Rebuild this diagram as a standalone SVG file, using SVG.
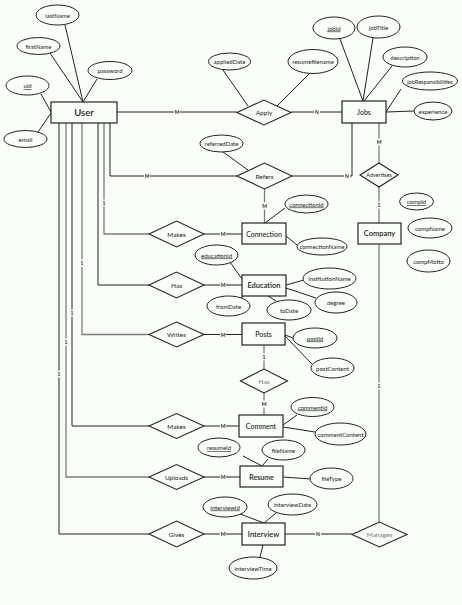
<svg xmlns="http://www.w3.org/2000/svg" width="462" height="605" viewBox="0 0 462 605">
<style>
text{font-family:Lato,"Liberation Sans","DejaVu Sans",sans-serif;fill:#222;text-anchor:middle;dominant-baseline:central}
.ent rect{fill:#f7fff6;stroke:#222;stroke-width:1.2}
.ent text{font-size:7px;font-weight:600}
.ent text.n{font-weight:500}
.rel polygon{fill:#f7fff6;stroke:#222;stroke-width:1.1}
.rel text{font-size:6.5px}
.att ellipse{fill:#f7fff6;stroke:#222;stroke-width:1}
.att text{font-size:6px}
.key text{text-decoration:underline}
#conn path{fill:none;stroke:#222;stroke-width:1}
#conn path.g{stroke:#7d7d72;stroke-width:1.3}
.lb rect{fill:#f7fff6}
.lb text{font-size:5px;font-weight:700}
.grey text{fill:#777}
</style>
<rect width="462" height="605" fill="#f7fff6"/>
<g id="conn">
<path d="M65,25 L83,102 M50,53 L83,102 M97,79 L83,102 M41,94 L51,112 M38,132 L51,113"/>
<path d="M117,112 H237 M291,112 H342"/>
<path d="M223,70 L248,106 M310,73 L277,106"/>
<path d="M340,39 L363,101 M373,38 L363,101 M392,66 L364,101 M401,89 L386,112 M414,111 L386,112"/>
<path d="M110,123 V176 H237"/>
<path d="M104,123 V234 H149" class="g"/>
<path d="M98,123 V285 H149"/>
<path d="M82,123 V334.5 H149" class="g"/>
<path d="M72,123 V426 H149"/>
<path d="M66,123 V477 H149" class="g"/>
<path d="M59,123 V534 H149"/>
<path d="M292,176 H352 V123"/>
<path d="M223,152 L248,170"/>
<path d="M264.5,189 V223" class="g"/>
<path d="M379,123 V163" class="g"/>
<path d="M379,187 V223" class="g"/>
<path d="M379,244 V522" class="g"/>
<path d="M285,208 L265,223 M297,245 L286,236"/>
<path d="M204,234 H242 M204,285 H242 M204,334.5 H242 M204,426 H239 M204,477 H240 M204,534 H242"/>
<path d="M230,262 L242,279 M240,298 L244,296 M268,296 L276,301 M304,280 L286,285 M316,298 L286,288"/>
<path d="M293,338 L285,335 M312,364 L285,336"/>
<path d="M264,345 V369 M264,393 V415" class="g"/>
<path d="M297,415 L283,425 M315,432 L283,427"/>
<path d="M243,456 L262,466 M268,459 L262,466 M311,479 L283,477"/>
<path d="M240,514 L264,523 M276,513 L264,523 M263,545 L260,557"/>
<path d="M285,534 H352"/>
<g class="lb">
<rect x="174" y="108.5" width="6" height="7"/><text x="177" y="112">M</text>
<rect x="314" y="108.5" width="6" height="7"/><text x="317" y="112">N</text>
<rect x="144" y="172.5" width="6" height="7"/><text x="147" y="176">M</text>
<rect x="344" y="172.5" width="6" height="7"/><text x="347" y="176">N</text>
<rect x="376" y="138.5" width="6" height="7"/><text x="379" y="142">M</text>
<rect x="376" y="201.5" width="6" height="7"/><text x="379" y="205">1</text>
<rect x="261.5" y="202.5" width="6" height="7"/><text x="264.5" y="206">M</text>
<rect x="101" y="199.5" width="6" height="7"/><text x="104" y="203">1</text>
<rect x="220" y="230.5" width="6" height="7"/><text x="223" y="234">M</text>
<rect x="79" y="259.5" width="6" height="7"/><text x="82" y="263">1</text>
<rect x="220" y="281.5" width="6" height="7"/><text x="223" y="285">M</text>
<rect x="220" y="331" width="6" height="7"/><text x="223" y="334.5">M</text>
<rect x="261" y="353.5" width="6" height="7"/><text x="264" y="357">1</text>
<rect x="261" y="400.5" width="6" height="7"/><text x="264" y="404">M</text>
<rect x="69" y="309.5" width="6" height="7"/><text x="72" y="313">1</text>
<rect x="220" y="422.5" width="6" height="7"/><text x="223" y="426">M</text>
<rect x="63" y="338.5" width="6" height="7"/><text x="66" y="342">1</text>
<rect x="220" y="473.5" width="6" height="7"/><text x="223" y="477">M</text>
<rect x="56" y="370.5" width="6" height="7"/><text x="59" y="374">1</text>
<rect x="220" y="530.5" width="6" height="7"/><text x="223" y="534">M</text>
<rect x="315" y="530.5" width="6" height="7"/><text x="318" y="534">N</text>
<rect x="376" y="382.5" width="6" height="7"/><text x="379" y="386">1</text>
</g>
</g>
<g id="user" class="ent"><rect x="51" y="102" width="66" height="21"/><text x="84" y="112.5" style="font-size:9.5px">User</text></g>
<g id="jobs" class="ent"><rect x="342" y="101" width="44" height="22"/><text class="n" x="364" y="112">Jobs</text></g>
<g id="connection" class="ent"><rect x="242" y="223" width="44" height="21"/><text class="n" x="264" y="233.5">Connection</text></g>
<g id="company" class="ent"><rect x="358" y="223" width="43" height="21"/><text x="379.5" y="233.5" style="font-size:7.5px">Company</text></g>
<g id="education" class="ent"><rect x="242" y="275" width="44" height="21"/><text x="264" y="285.5" style="font-size:7.5px">Education</text></g>
<g id="posts" class="ent"><rect x="242" y="323" width="43" height="22"/><text class="n" x="263.5" y="334">Posts</text></g>
<g id="comment" class="ent"><rect x="239" y="415" width="44" height="22"/><text class="n" x="261" y="426">Comment</text></g>
<g id="resume" class="ent"><rect x="240" y="466" width="43" height="21"/><text x="261.5" y="476.5">Resume</text></g>
<g id="interview" class="ent"><rect x="242" y="523" width="43" height="22"/><text x="263.5" y="534" style="font-size:7.5px">Interview</text></g>
<g id="apply" class="rel"><polygon points="237,112.5 264,100 291,112.5 264,125"/><text x="264" y="112.5">Apply</text></g>
<g id="refers" class="rel"><polygon points="237,176 264.5,163 292,176 264.5,189"/><text x="264.5" y="176">Refers</text></g>
<g id="advertises" class="rel"><polygon points="360,175 379,163 398,175 379,187"/><text x="379" y="175" style="font-size:5.5px">Advertises</text></g>
<g id="makes1" class="rel"><polygon points="149,234 176.5,221 204,234 176.5,247"/><text x="176.5" y="234">Makes</text></g>
<g id="has1" class="rel"><polygon points="149,285 176.5,272 204,285 176.5,298"/><text x="176.5" y="285">Has</text></g>
<g id="writes" class="rel"><polygon points="149,334.5 176.5,322 204,334.5 176.5,347"/><text x="176.5" y="334.5">Writes</text></g>
<g id="has2" class="rel grey"><polygon points="240.5,381 264,369 287.5,381 264,393"/><text x="264" y="381">Has</text></g>
<g id="makes2" class="rel"><polygon points="149,426 176.5,413.5 204,426 176.5,438.5"/><text x="176.5" y="426">Makes</text></g>
<g id="uploads" class="rel"><polygon points="149,477 176.5,464.5 204,477 176.5,489.5"/><text x="176.5" y="477">Uploads</text></g>
<g id="gives" class="rel"><polygon points="149,534 176.5,521 204,534 176.5,547"/><text x="176.5" y="534">Gives</text></g>
<g id="manages" class="rel grey"><polygon points="352,534.5 379.5,522 407,534.5 379.5,547"/><text x="379.5" y="534.5">Manages</text></g>
<g id="lastName" class="att"><ellipse cx="57.5" cy="15" rx="21.5" ry="10"/><text x="57.5" y="15">lastName</text></g>
<g id="firstName" class="att"><ellipse cx="38.5" cy="46" rx="21.5" ry="8.5"/><text x="38.5" y="46">firstName</text></g>
<g id="password" class="att"><ellipse cx="110" cy="70.5" rx="22" ry="9"/><text x="110" y="70.5">password</text></g>
<g id="uid" class="att key"><ellipse cx="27.5" cy="85.5" rx="21.5" ry="9.5"/><text x="27.5" y="85.5">uid</text></g>
<g id="email" class="att"><ellipse cx="25.5" cy="139" rx="21.5" ry="8.5"/><text x="25.5" y="139">email</text></g>
<g id="appliedDate" class="att"><ellipse cx="229.5" cy="61.5" rx="21" ry="8.5"/><text x="229.5" y="61.5">appliedDate</text></g>
<g id="resumefilename" class="att"><ellipse cx="313" cy="61.5" rx="25" ry="12"/><text x="313" y="61.5">resumefilename</text></g>
<g id="jobId" class="att key"><ellipse cx="334" cy="28" rx="21" ry="11"/><text x="334" y="28">jobId</text></g>
<g id="jobTitle" class="att"><ellipse cx="378.5" cy="27" rx="21.5" ry="11"/><text x="378.5" y="27">jobTitle</text></g>
<g id="description" class="att"><ellipse cx="405" cy="57" rx="22" ry="10"/><text x="405" y="57">description</text></g>
<g id="jobResponsibilities" class="att"><ellipse cx="430" cy="81" rx="27.5" ry="9"/><text x="430" y="81" style="font-size:5.6px">jobResponsibilities</text></g>
<g id="experience" class="att"><ellipse cx="433" cy="111" rx="19" ry="9"/><text x="433" y="111">experience</text></g>
<g id="referredDate" class="att"><ellipse cx="221.5" cy="143.5" rx="21.5" ry="8.5"/><text x="221.5" y="143.5">referredDate</text></g>
<g id="connectionId" class="att key"><ellipse cx="306.5" cy="204" rx="21.5" ry="9"/><text x="306.5" y="204">connectionId</text></g>
<g id="connectionName" class="att"><ellipse cx="322" cy="246.5" rx="25" ry="8.5"/><text x="322" y="246.5">connectionName</text></g>
<g id="compId" class="att key"><ellipse cx="416.5" cy="201.5" rx="17" ry="8.5"/><text x="416.5" y="201.5">compId</text></g>
<g id="compName" class="att"><ellipse cx="430" cy="228" rx="22" ry="10"/><text x="430" y="228">compName</text></g>
<g id="compMotto" class="att"><ellipse cx="428.5" cy="261" rx="21.5" ry="11"/><text x="428.5" y="261">compMotto</text></g>
<g id="educationId" class="att key"><ellipse cx="216.5" cy="255" rx="21.5" ry="10"/><text x="216.5" y="255">educationId</text></g>
<g id="fromDate" class="att"><ellipse cx="228.5" cy="306" rx="21.5" ry="10"/><text x="228.5" y="306">fromDate</text></g>
<g id="toDate" class="att"><ellipse cx="289" cy="310" rx="22" ry="10"/><text x="289" y="310">toDate</text></g>
<g id="institutionName" class="att"><ellipse cx="329.5" cy="278.5" rx="26.5" ry="10.5"/><text x="329.5" y="278.5">institutionName</text></g>
<g id="degree" class="att"><ellipse cx="336" cy="302.5" rx="21" ry="10.5"/><text x="336" y="302.5">degree</text></g>
<g id="postId" class="att key"><ellipse cx="315" cy="338" rx="22" ry="10"/><text x="315" y="338">postId</text></g>
<g id="postContent" class="att"><ellipse cx="332.5" cy="368" rx="21.5" ry="10"/><text x="332.5" y="368">postContent</text></g>
<g id="commentId" class="att key"><ellipse cx="312.5" cy="407" rx="21.5" ry="9.5"/><text x="312.5" y="407">commentId</text></g>
<g id="commentContent" class="att"><ellipse cx="340.5" cy="434" rx="25.5" ry="11"/><text x="340.5" y="434">commentContent</text></g>
<g id="resumeId" class="att key"><ellipse cx="219" cy="447.5" rx="21" ry="9.5"/><text x="219" y="447.5">resumeId</text></g>
<g id="fileName" class="att"><ellipse cx="283.5" cy="450" rx="21.5" ry="10"/><text x="283.5" y="450">fileName</text></g>
<g id="fileType" class="att"><ellipse cx="331.5" cy="478.5" rx="21.5" ry="10.5"/><text x="331.5" y="478.5">fileType</text></g>
<g id="interviewId" class="att key"><ellipse cx="225" cy="507" rx="22" ry="10"/><text x="225" y="507">interviewId</text></g>
<g id="interviewDate" class="att"><ellipse cx="292.5" cy="504.5" rx="24.5" ry="10.5"/><text x="292.5" y="504.5">interviewDate</text></g>
<g id="interviewTime" class="att"><ellipse cx="253" cy="568" rx="24" ry="11"/><text x="253" y="568">interviewTime</text></g>
</svg>
